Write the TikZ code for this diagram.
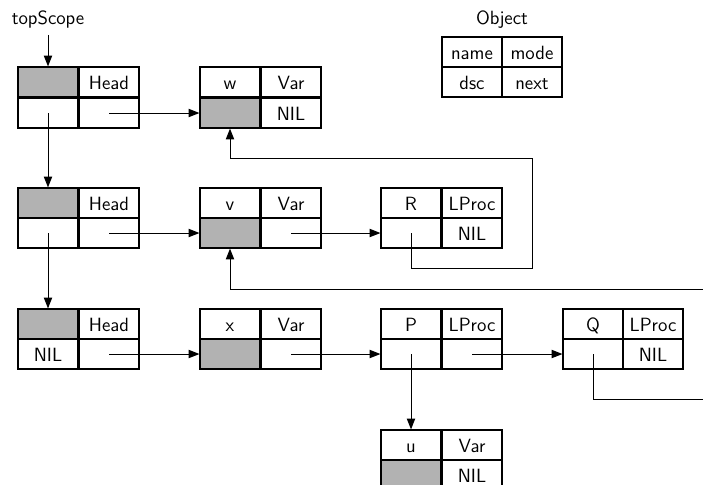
\documentclass[tikz,border=0pt]{standalone}
\usepackage{tikz}
\usetikzlibrary{arrows.meta, calc, positioning}

\begin{document}
\begin{tikzpicture}[x=0.6pt, y=-0.6pt, >={Triangle[length=6.5pt, width=5pt]}, font=\sffamily\fontsize{11.5}{13}\selectfont, line width=0.6pt]
  \clip (0,0) rectangle (703,484);
  \useasboundingbox (0,0) rectangle (703,484);
  \tikzset{cell/.style={draw, line width=0.7pt, minimum width=36pt, minimum height=18pt, inner sep=0pt, text height=9pt, text depth=0pt},
           hole/.style={cell, fill=black!30}}

  % legend
  \node (objTitle) at (502,20) {Object};
  \node[cell] (objName) at (472,52) {name};
  \node[cell] (objMode) at (532,52) {mode};
  \node[cell] (objDsc) at (472,82) {dsc};
  \node[cell] (objNext) at (532,82) {next};

  % scopes
  \node (top) at (48,20) {topScope};
  \node[hole] (s1-name) at (48,82) {};  \node[cell] (s1-mode) at (109,82) {Head};
  \node[cell] (s1-dsc) at (48,113) {};  \node[cell] (s1-next) at (109,113) {};
  \node[hole] (s2-name) at (48,203) {}; \node[cell] (s2-mode) at (109,203) {Head};
  \node[cell] (s2-dsc) at (48,233) {};  \node[cell] (s2-next) at (109,233) {};
  \node[hole] (s3-name) at (48,324) {}; \node[cell] (s3-mode) at (109,324) {Head};
  \node[cell] (s3-dsc) at (48,354) {NIL}; \node[cell] (s3-next) at (109,354) {};

  % objects
  \node[cell] (w-name) at (230,82) {w};  \node[cell] (w-mode) at (291,82) {Var};
  \node[hole] (w-dsc) at (230,113) {};   \node[cell] (w-next) at (291,113) {NIL};
  \node[cell] (v-name) at (230,203) {v}; \node[cell] (v-mode) at (291,203) {Var};
  \node[hole] (v-dsc) at (230,233) {};   \node[cell] (v-next) at (291,233) {};
  \node[cell] (x-name) at (230,324) {x}; \node[cell] (x-mode) at (291,324) {Var};
  \node[hole] (x-dsc) at (230,354) {};   \node[cell] (x-next) at (291,354) {};
  \node[cell] (R-name) at (411,203) {R}; \node[cell] (R-mode) at (472,203) {LProc};
  \node[cell] (R-dsc) at (411,233) {};   \node[cell] (R-next) at (472,233) {NIL};
  \node[cell] (P-name) at (411,324) {P}; \node[cell] (P-mode) at (472,324) {LProc};
  \node[cell] (P-dsc) at (411,354) {};   \node[cell] (P-next) at (472,354) {};
  \node[cell] (Q-name) at (593,324) {Q}; \node[cell] (Q-mode) at (653,324) {LProc};
  \node[cell] (Q-dsc) at (593,354) {};   \node[cell] (Q-next) at (653,354) {NIL};
  \node[cell] (u-name) at (411,445) {u}; \node[cell] (u-mode) at (472,445) {Var};
  \node[hole] (u-dsc) at (411,475) {};   \node[cell] (u-next) at (472,475) {NIL};

  \coordinate (vIn) at (703,289);
  \coordinate (qOut) at (703,399);

  \draw[->] (top.south) -- (s1-name.north);
  \draw[->] (s1-dsc.center) -- (s2-name.north);
  \draw[->] (s2-dsc.center) -- (s3-name.north);
  \draw[->] (s1-next.center) -- (w-dsc.west);
  \draw[->] (s2-next.center) -- (v-dsc.west);
  \draw[->] (s3-next.center) -- (x-dsc.west);
  \draw[->] (v-next.center) -- (R-dsc.west);
  \draw[->] (x-next.center) -- (P-dsc.west);
  \draw[->] (P-next.center) -- (Q-dsc.west);
  \draw[->] (P-dsc.center) -- (u-name.north);
  \draw[->] (R-dsc.center) -- (411,268) -- (532,268) -- (532,158) -| (w-dsc.south);
  \draw[->] (vIn) -| (v-dsc.south);
  \draw (Q-dsc.center) |- (qOut);
\end{tikzpicture}
\end{document}
